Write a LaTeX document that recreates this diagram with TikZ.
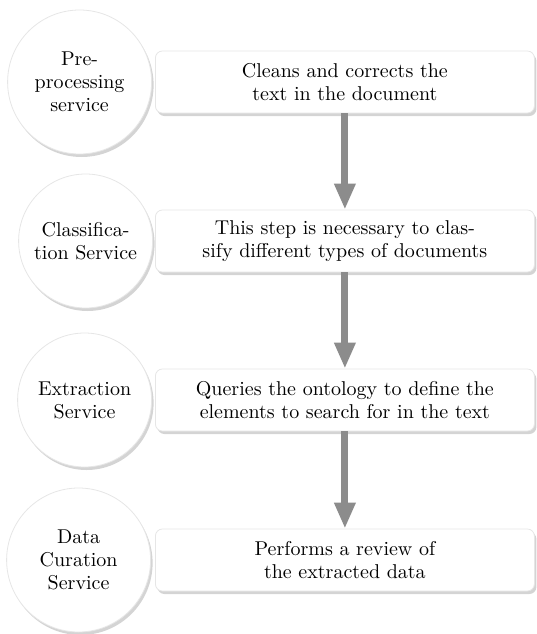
\documentclass[tikz,border=0pt]{standalone}
\usepackage{fontspec}
\setmainfont{lmroman10-regular.otf}
\usetikzlibrary{arrows.meta,shadows}
\definecolor{edgegray}{HTML}{E6E6E6}
\definecolor{shadowgray}{HTML}{D4D4D4}
\definecolor{arrowgray}{HTML}{8C8C8C}
\begin{document}
\begin{tikzpicture}[x=1pt,y=-1pt,
  font=\fontsize{20}{23}\selectfont,
  softshadow/.style={drop shadow={shadow xshift=2pt, shadow yshift=-3pt, fill=shadowgray, opacity=1}},
  title/.style={circle, draw=edgegray, line width=0.8pt, fill=white, align=center,
    inner sep=0pt, anchor=east, softshadow},
  desc/.style={rectangle, rounded corners=7pt, draw=edgegray, line width=0.8pt, fill=white,
    minimum width=379pt, minimum height=62pt, anchor=west, align=center, softshadow},
  flow/.style={line width=7pt, draw=arrowgray, -{Triangle[width=20pt,length=26pt]}}
]
\useasboundingbox (0,0) rectangle (536,634);

% service titles
\node[title, minimum size=144pt] (t1) at (152,82) {Pre-\\processing\\service};
\node[title, minimum size=134pt] (t2) at (153,241) {Classifica-\\tion Service};
\node[title, minimum size=134pt] (t3) at (152,400) {Extraction\\Service};
\node[title, minimum size=144pt] (t4) at (151,560) {Data\\Curation\\Service};

% descriptions
\node[desc] (d1) at (155,82) {Cleans and corrects the\\text in the document};
\node[desc] (d2) at (155,241) {This step is necessary to clas-\\sify different types of documents};
\node[desc] (d3) at (155,400) {Queries the ontology to define the\\elements to search for in the text};
\node[desc] (d4) at (155,560) {Performs a review of\\the extracted data};

% flow between steps
\draw[flow] (d1.south) -- (d2.north);
\draw[flow] (d2.south) -- (d3.north);
\draw[flow] (d3.south) -- (d4.north);
\end{tikzpicture}
\end{document}
